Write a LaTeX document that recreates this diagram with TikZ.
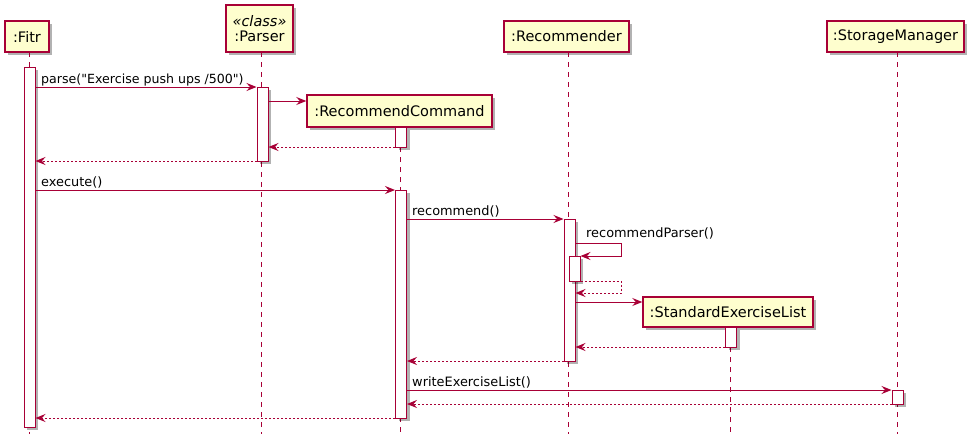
\documentclass[tikz,border=0pt]{standalone}
\usepackage{fontspec}
\setmainfont{DejaVu Sans}[Ligatures=TeXOff]
\usetikzlibrary{arrows.meta,shadows}
\definecolor{umlred}{HTML}{A80036}
\definecolor{umlfill}{HTML}{FEFECE}
\begin{document}
\begin{tikzpicture}[x=1pt,y=-1pt,
  every node/.style={font=\fontsize{12.9pt}{15.5pt}\selectfont},
  shd/.style={drop shadow={shadow xshift=3pt,shadow yshift=-3pt,fill=black,opacity=0.3}},
  part/.style={draw=umlred,fill=umlfill,line width=1.4pt,inner sep=0pt,align=center,shd,
    font=\fontsize{14.5pt}{16.5pt}\selectfont},
  actbar/.style={draw=umlred,fill=white,line width=1pt,inner sep=0pt,minimum width=11pt,shd},
  life/.style={draw=umlred,line width=0.9pt,dash pattern=on 5pt off 5pt},
  msg/.style={draw=umlred,line width=1pt,-{Stealth[length=10pt,width=8pt,inset=3.5pt]}},
  ret/.style={msg,dash pattern=on 2pt off 2pt},
  lbl/.style={anchor=base west,inner sep=0pt}
]
\useasboundingbox (0,0) rectangle (977,442);
% participants
\node[part,minimum width=44pt,minimum height=31pt] (fitr) at (27,36.5) {:Fitr};
\node[part,minimum width=67pt,minimum height=47pt] (parser) at (259.5,28.5) {\textit{«class»}\\[-1pt]:Parser};
\node[part,minimum width=125pt,minimum height=31pt] (recommender) at (566.5,36.5) {:Recommender};
\node[part,minimum width=137pt,minimum height=31pt] (storage) at (895.5,36.5) {:StorageManager};
\node[part,minimum width=185pt,minimum height=32pt] (reccmd) at (399.5,111) {:RecommendCommand};
\node[part,minimum width=170pt,minimum height=30pt] (stdlist) at (728,312) {:StandardExerciseList};
% lifelines
\draw[life] (29,52) -- (29,434);
\draw[life] (261,52) -- (261,434);
\draw[life] (400.5,127) -- (400.5,434);
\draw[life] (568.5,52) -- (568.5,434);
\draw[life] (730.5,327) -- (730.5,434);
\draw[life] (897,52) -- (897,434);
% activation bars
\node[actbar,minimum height=360pt] (fA) at (29.5,247) {};
\node[actbar,minimum height=74pt] (pA) at (262.5,124) {};
\node[actbar,minimum height=20pt] (cA1) at (401,137) {};
\node[actbar,minimum height=228pt] (cA2) at (401,304) {};
\node[actbar,minimum height=142pt] (rA) at (569.5,290) {};
\node[actbar,minimum height=25pt] (rA2) at (574.5,268.5) {};
\node[actbar,minimum height=20pt] (sA) at (731,337) {};
\node[actbar,minimum height=14pt] (smA) at (897.5,397) {};
% messages
\draw[msg] (fA.east |- 0,87) -- (pA.west |- 0,87);
\node[lbl,font=\fontsize{12.6pt}{15pt}\selectfont] (l1) at (41,83) {parse("Exercise push ups /500")};
\draw[msg] (pA.east |- 0,101) -- (reccmd.west |- 0,101);
\draw[ret] (cA1.west |- 0,147) -- (pA.east |- 0,147);
\draw[ret] (pA.west |- 0,161) -- (fA.east |- 0,161);
\draw[msg] (fA.east |- 0,190) -- (cA2.west |- 0,190);
\node[lbl] (l2) at (41,186) {execute()};
\draw[msg] (cA2.east |- 0,219) -- (rA.west |- 0,219);
\node[lbl] (l3) at (412,215) {recommend()};
\coordinate (loop) at (621,0);
\draw[msg] (rA.east |- 0,243) -- (loop |- 0,243) -- (loop |- 0,256) -- (rA2.east |- 0,256);
\node[lbl] (l4) at (586,237) {recommendParser()};
\draw[ret] (rA2.east |- 0,281) -- (loop |- 0,281) -- (loop |- 0,293) -- (rA.east |- 0,293);
\draw[msg] (rA.east |- 0,302) -- (stdlist.west |- 0,302);
\draw[ret] (sA.west |- 0,347) -- (rA.east |- 0,347);
\draw[ret] (rA.west |- 0,361) -- (cA2.east |- 0,361);
\draw[msg] (cA2.east |- 0,390) -- (smA.west |- 0,390);
\node[lbl] (l5) at (412,386) {writeExerciseList()};
\draw[ret] (smA.west |- 0,404) -- (cA2.east |- 0,404);
\draw[ret] (cA2.west |- 0,418) -- (fA.east |- 0,418);
\end{tikzpicture}
\end{document}
